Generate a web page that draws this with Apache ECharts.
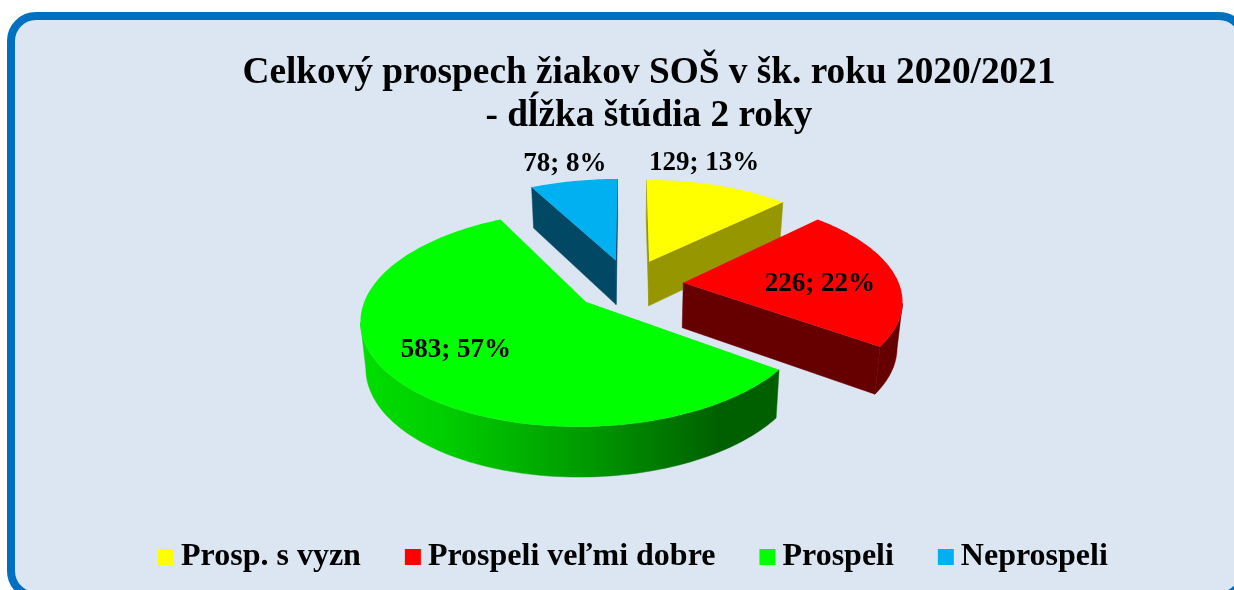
<!DOCTYPE html>
<html>
<head>
<meta charset="utf-8">
<style>html,body{margin:0;padding:0;background:#fff}#c{width:1234px;height:590px}</style>
<script src="https://cdn.jsdelivr.net/npm/echarts@6/dist/echarts.min.js"></script>
</head>
<body>
<div id="c"></div>
<script>
const categories = ['Prosp. s vyzn', 'Prospeli veľmi dobre', 'Prospeli', 'Neprospeli'];
const values = [129, 226, 583, 78];
const percents = [13, 22, 57, 8];
const topColors = ['#FFFF00', '#FF0000', '#00FF00', '#00B0F0'];
const wallColors = ['#969600', '#660000', '#006000', '#004864'];
const drawOrder = [2, 3, 4, 1];
const labelOffsets = [[55, -99], [136.5, 1], [-130, 48], [-51, -97]];

const VIEW = {ox: 628.5, oy: 284.6, a: 100.5, b: 216, p: 0.15, explode: 0.255, depth: 45, depthP: 0.09, bottomScale: 0.98};
const FONT = 'bold 27px "Liberation Serif"';
const total = values.reduce((s, v) => s + v, 0);

function project(u, v) {
  const d = 1 + VIEW.p * v;
  return [VIEW.ox + VIEW.b * u / d, VIEW.oy - VIEW.a * v / d];
}
function lower(pt, v) {
  return [VIEW.ox + (pt[0] - VIEW.ox) * VIEW.bottomScale, pt[1] + VIEW.depth / (1 + VIEW.depthP * v)];
}
const greenWall = {type: 'linear', x: 367, y: 0, x2: 781, y2: 0, global: true, colorStops: [
  {offset: 0, color: '#00DD00'}, {offset: 0.2, color: '#00CC00'}, {offset: 0.55, color: '#009600'},
  {offset: 0.85, color: '#006000'}, {offset: 1, color: '#006000'}]};

function sliceItem(i) {
  const before = values.slice(0, i).reduce((s, v) => s + v, 0);
  const a0 = before / total * 2 * Math.PI, a1 = (before + values[i]) / total * 2 * Math.PI;
  const mid = (a0 + a1) / 2;
  const u0 = VIEW.explode * Math.sin(mid), v0 = VIEW.explode * Math.cos(mid);
  const steps = Math.max(24, Math.round((a1 - a0) * 40));
  const rim = [];
  for (let k = 0; k <= steps; k++) {
    const t = a0 + (a1 - a0) * k / steps;
    const u = u0 + Math.sin(t), v = v0 + Math.cos(t);
    rim.push({top: project(u, v), bottom: lower(project(u, v), v)});
  }
  const apexTop = project(u0, v0);
  const apex = {top: apexTop, bottom: lower(apexTop, v0)};
  const children = [];
  const fillWall = i === 2 ? greenWall : wallColors[i];
  const addWall = run => children.push({
    type: 'polygon',
    shape: {points: run.map(p => p.top).concat(run.slice().reverse().map(p => p.bottom))},
    style: {fill: fillWall, stroke: fillWall, lineWidth: 0.5}
  });
  const first = rim[0], last = rim[rim.length - 1];
  if (last.top[0] > apex.top[0]) addWall([last, apex]);
  if (first.top[0] < apex.top[0]) addWall([apex, first]);
  let run = [];
  for (let k = 0; k < rim.length - 1; k++) {
    if (rim[k + 1].top[0] < rim[k].top[0]) {
      if (!run.length) run.push(rim[k]);
      run.push(rim[k + 1]);
    } else if (run.length) { addWall(run); run = []; }
  }
  if (run.length) addWall(run);
  children.push({
    type: 'polygon',
    shape: {points: [apex.top].concat(rim.map(p => p.top))},
    style: {fill: topColors[i]}
  });
  children.push({
    type: 'text',
    z2: 10,
    style: {
      text: values[i] + '; ' + percents[i] + '%',
      x: apex.top[0] + labelOffsets[i][0], y: apex.top[1] + labelOffsets[i][1],
      align: 'center', verticalAlign: 'middle', font: FONT, fill: '#000'
    }
  });
  return {type: 'group', children};
}

const chart = echarts.init(document.getElementById('c'), null, {renderer: 'canvas'});
chart.setOption({
  animation: false,
  backgroundColor: '#FFFFFF',
  title: {
    text: 'Celkový prospech žiakov SOŠ v šk. roku 2020/2021\n- dĺžka štúdia 2 roky',
    left: 649, top: 52, textAlign: 'center', padding: 0,
    textStyle: {fontFamily: '"Liberation Serif"', fontWeight: 'bold', fontSize: 37.3, lineHeight: 43, color: '#000'}
  },
  legend: {
    data: categories,
    left: 158, top: 541, padding: 0,
    icon: 'rect', itemWidth: 16, itemHeight: 16, itemGap: 44,
    textStyle: {fontFamily: '"Liberation Serif"', fontWeight: 'bold', fontSize: 32, color: '#000', padding: [0, 0, 0, 2]},
    selectedMode: false
  },
  graphic: [{
    type: 'rect', z: -1, silent: true,
    shape: {x: 11, y: 16, width: 1233, height: 580, r: 25},
    style: {fill: '#DCE6F2', stroke: '#0070C0', lineWidth: 8}
  }],
  series: categories.map((name, i) => ({
    type: 'custom',
    name,
    coordinateSystem: 'none',
    z: drawOrder[i],
    silent: true,
    itemStyle: {color: topColors[i]},
    data: [values[i]],
    renderItem: () => sliceItem(i)
  }))
});
</script>
</body>
</html>
